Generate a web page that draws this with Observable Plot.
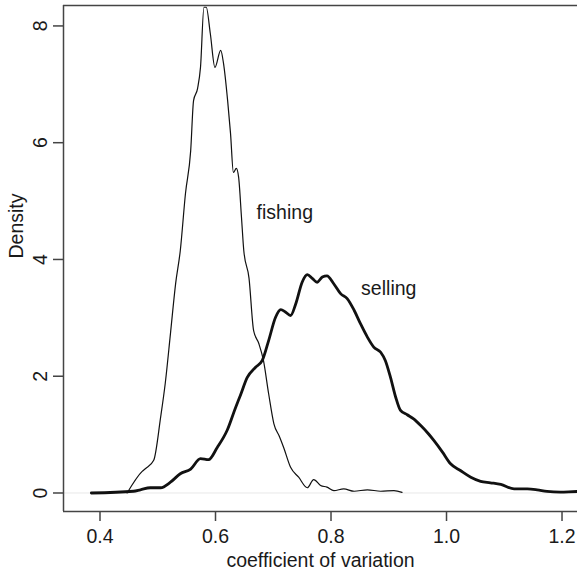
<!DOCTYPE html>
<html>
<head>
<meta charset="utf-8">
<script src="https://cdn.jsdelivr.net/npm/d3@7"></script>
<script src="https://cdn.jsdelivr.net/npm/@observablehq/plot@0.6"></script>
<style>
  html, body { margin: 0; padding: 0; background: #fff; }
  svg { display: block; }
</style>
</head>
<body>
<div id="chart"></div>
<script>
// Density curves
const fishingX = [0.447, 0.473, 0.479, 0.493, 0.505, 0.513, 0.522, 0.531, 0.539, 0.548, 0.557, 0.562, 0.569, 0.574, 0.580, 0.584, 0.591, 0.599, 0.609, 0.614, 0.621, 0.626, 0.631, 0.636, 0.640, 0.645, 0.649, 0.658, 0.666, 0.675, 0.683, 0.692, 0.701, 0.711, 0.718, 0.730, 0.744, 0.759, 0.770, 0.782, 0.793, 0.805, 0.822, 0.840, 0.863, 0.886, 0.909, 0.923];
const fishingY = [0.00, 0.37, 0.42, 0.56, 1.30, 1.88, 2.73, 3.59, 4.15, 5.13, 5.86, 6.72, 6.93, 7.29, 8.32, 8.32, 7.87, 7.29, 7.58, 7.35, 6.72, 6.16, 5.49, 5.56, 5.41, 4.72, 4.15, 3.68, 2.78, 2.56, 2.27, 1.70, 1.19, 0.96, 0.78, 0.44, 0.27, 0.09, 0.23, 0.13, 0.10, 0.04, 0.07, 0.03, 0.055, 0.03, 0.04, 0.01];

const sellingX = [0.385, 0.458, 0.470, 0.487, 0.505, 0.522, 0.539, 0.557, 0.574, 0.588, 0.603, 0.620, 0.635, 0.643, 0.655, 0.669, 0.681, 0.692, 0.704, 0.713, 0.721, 0.730, 0.739, 0.750, 0.759, 0.768, 0.776, 0.785, 0.793, 0.805, 0.817, 0.828, 0.840, 0.851, 0.863, 0.874, 0.886, 0.894, 0.903, 0.912, 0.920, 0.932, 0.943, 0.955, 0.969, 0.978, 0.993, 1.007, 1.024, 1.042, 1.059, 1.076, 1.094, 1.117, 1.140, 1.157, 1.174, 1.197, 1.226, 1.260];
const sellingY = [0.00, 0.03, 0.055, 0.09, 0.09, 0.185, 0.33, 0.41, 0.59, 0.57, 0.78, 1.07, 1.47, 1.67, 1.98, 2.15, 2.27, 2.61, 3.01, 3.14, 3.10, 3.04, 3.24, 3.61, 3.74, 3.67, 3.61, 3.70, 3.72, 3.58, 3.41, 3.33, 3.13, 2.90, 2.67, 2.50, 2.41, 2.27, 1.98, 1.64, 1.42, 1.34, 1.27, 1.16, 1.01, 0.90, 0.70, 0.50, 0.385, 0.27, 0.20, 0.175, 0.146, 0.072, 0.072, 0.055, 0.026, 0.014, 0.026, 0.01];

const labelNames = ["fishing", "selling"];
const labelX = [0.72, 0.90];
const labelY = [4.8, 3.5];

const xTicks = [0.4, 0.6, 0.8, 1.0, 1.2];
const yTicks = [0, 2, 4, 6, 8];
const xTitle = "coefficient of variation";
const yTitle = "Density";

const xDomain = [0.3368, 1.2268];
const yDomain = [-0.317, 8.35];

const fishing = fishingX.map((x, i) => ({x, y: fishingY[i]}));
const selling = sellingX.map((x, i) => ({x, y: sellingY[i]}));
const labels = labelNames.map((name, i) => ({name, x: labelX[i], y: labelY[i]}));

const FONT = "'Liberation Sans', Arial, Helvetica, sans-serif";
const FS = 19.5;
const INK = "#1a1a1a";

const chart = Plot.plot({
  width: 577,
  height: 574,
  marginLeft: 63,
  marginRight: 0,
  marginTop: 5,
  marginBottom: 63,
  style: {fontFamily: FONT, fontSize: FS + "px", color: INK, background: "#fff"},
  x: {domain: xDomain, label: null},
  y: {domain: yDomain, label: null},
  marks: [
    Plot.ruleY([0], {stroke: "#e8e8e8", strokeWidth: 1}),
    Plot.line(fishing, {x: "x", y: "y", stroke: "#111", strokeWidth: 1.2, curve: "monotone-x", clip: true}),
    Plot.line(selling, {x: "x", y: "y", stroke: "#111", strokeWidth: 2.8, curve: "monotone-x", clip: true}),
    Plot.text(labels, {x: "x", y: "y", text: "name", fontSize: FS, fill: INK}),
    Plot.ruleX([xDomain[0]], {stroke: "#444", strokeWidth: 1.5}),
    Plot.ruleY([yDomain[0], yDomain[1]], {stroke: "#444", strokeWidth: 1.5}),
    Plot.axisX({ticks: xTicks, tickFormat: d3.format(".1f"), tickSize: 10, tickPadding: 8, stroke: "#444", strokeWidth: 1.5, fill: INK, fontSize: FS, label: null}),
    Plot.axisY({ticks: yTicks, tickFormat: d3.format("d"), tickSize: 10, tickPadding: 7, tickRotate: -90, stroke: "#444", strokeWidth: 1.5, fill: INK, fontSize: FS, label: null}),
    Plot.text([xTitle], {frameAnchor: "bottom", dy: 55, lineAnchor: "bottom", fontSize: FS, fill: INK}),
    Plot.text([yTitle], {frameAnchor: "left", dx: -41, rotate: -90, lineAnchor: "bottom", fontSize: FS, fill: INK})
  ]
});
document.getElementById("chart").appendChild(chart);
</script>
</body>
</html>
